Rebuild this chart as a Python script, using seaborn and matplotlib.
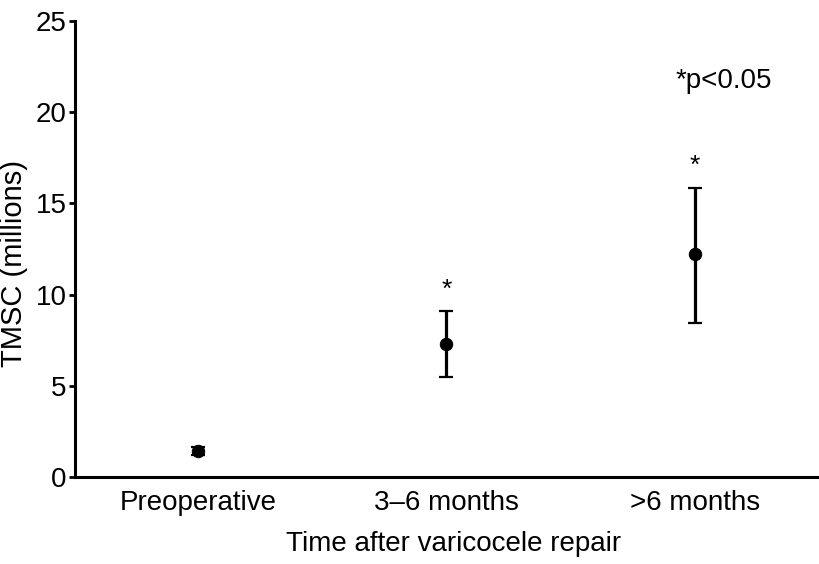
import seaborn as sns
import matplotlib.pyplot as plt
import pandas as pd

# Data
categories = ['Preoperative', '3\u20136 months', '>6 months']
means = [1.45, 7.3, 12.25]
lower = [1.2, 5.5, 8.45]
upper = [1.65, 9.1, 15.85]
star_y = [None, 10.25, 17.05]

sns.set_theme(style="white")
plt.rcParams['font.family'] = ['Liberation Sans', 'DejaVu Sans']
for key in ['text.color', 'axes.labelcolor', 'xtick.color', 'ytick.color']:
    plt.rcParams[key] = 'black'

df = pd.DataFrame({'time': categories, 'tmsc': means})

fig = plt.figure(figsize=(8.19, 5.64), dpi=100)
ax = fig.add_axes([0.0916, 0.154, 0.907, 0.809])

yerr = [[m - l for m, l in zip(means, lower)], [u - m for m, u in zip(means, upper)]]
ax.errorbar(range(len(categories)), means, yerr=yerr, fmt='none', ecolor='black',
            elinewidth=2.3, capsize=5, capthick=1.6, zorder=2)
sns.scatterplot(data=df, x='time', y='tmsc', color='black', s=80, edgecolor='black',
                zorder=3, ax=ax)

for i, sy in enumerate(star_y):
    if sy is not None:
        ax.text(i, sy, '*', ha='center', va='center', fontsize=19)
ax.text(2.116, 21.7, '*p<0.05', ha='center', va='center', fontsize=20)

ax.set_xlim(-0.494, 2.494)
ax.set_ylim(0, 25)
ax.set_yticks([0, 5, 10, 15, 20, 25])
ax.set_xticks(range(len(categories)))
ax.set_xticklabels(categories)
ax.tick_params(axis='y', which='major', left=True, length=4, width=2, labelsize=20, pad=2)
ax.tick_params(axis='x', bottom=False, labelsize=20, pad=3)
ax.set_xlabel('Time after varicocele repair', fontsize=20)
ax.set_ylabel('TMSC (millions)', fontsize=21)
ax.xaxis.set_label_coords(0.51, -0.117)
ax.yaxis.set_label_coords(-0.063, 0.469)

sns.despine(ax=ax)
for side in ['left', 'bottom']:
    ax.spines[side].set_linewidth(2.2)
    ax.spines[side].set_color('black')

fig.savefig('out.png', dpi=100)
plt.close(fig)
